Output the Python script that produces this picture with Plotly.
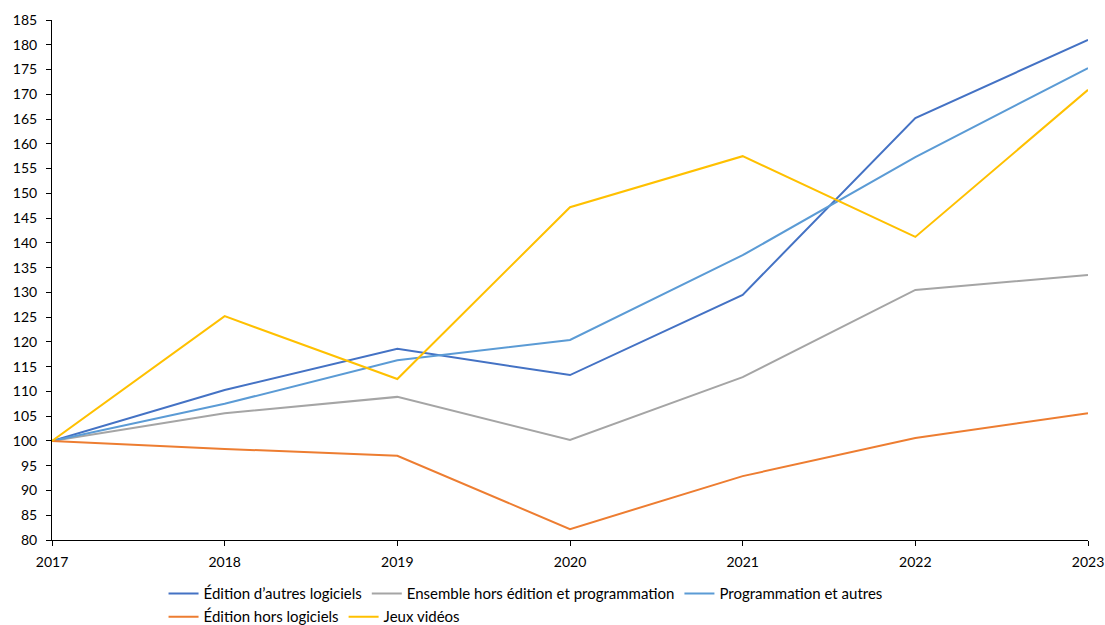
import plotly.graph_objects as go

years = [2017, 2018, 2019, 2020, 2021, 2022, 2023]

edition_autres_logiciels = [100, 110.3, 118.6, 113.3, 129.5, 165.2, 181.0]
ensemble_hors_edition = [100, 105.6, 108.9, 100.2, 112.9, 130.5, 133.5]
programmation_autres = [100, 107.5, 116.3, 120.4, 137.5, 157.3, 175.3]
edition_hors_logiciels = [100, 98.4, 97.0, 82.2, 92.9, 100.6, 105.6]
jeux_videos = [100, 125.2, 112.5, 147.2, 157.5, 141.2, 170.9]

y_ticks = list(range(80, 186, 5))

series = [
    ("Édition d’autres logiciels", edition_autres_logiciels, "#4472C4", "legend"),
    ("Ensemble hors édition et programmation", ensemble_hors_edition, "#A5A5A5", "legend"),
    ("Programmation et autres", programmation_autres, "#5B9BD5", "legend"),
    ("Édition hors logiciels", edition_hors_logiciels, "#ED7D31", "legend2"),
    ("Jeux vidéos", jeux_videos, "#FFC000", "legend2"),
]

fig = go.Figure()
for name, vals, color, leg in series:
    fig.add_trace(go.Scatter(
        x=years, y=vals, name=name, mode="lines",
        line=dict(color=color, width=2),
        legend=leg,
    ))

font = dict(family="Lato, 'Open Sans', sans-serif", size=14, color="#000000")
legend_font = dict(family="Lato, 'Open Sans', sans-serif", size=15, color="#000000")
axis_common = dict(
    showgrid=False, zeroline=False, showline=True,
    linecolor="#000000", linewidth=1,
    ticks="outside", ticklen=5, tickcolor="#000000",
    tickfont=font, automargin=False,
)

fig.update_layout(
    width=1105, height=625,
    margin=dict(l=52, r=17, t=20, b=85),
    paper_bgcolor="white", plot_bgcolor="white",
    font=font,
    showlegend=True,
    xaxis=dict(range=[2017, 2023], tickmode="array", tickvals=years,
               ticktext=[str(y) for y in years], ticklabelstandoff=4,
               **axis_common),
    yaxis=dict(range=[80, 185], tickmode="array", tickvals=y_ticks,
               ticktext=[str(v) for v in y_ticks], ticklabelstandoff=6,
               **axis_common),
    legend=dict(orientation="h", xref="container", yref="container",
                x=0.148, xanchor="left", y=0.05, yanchor="middle",
                font=legend_font, itemwidth=30, tracegroupgap=0,
                bgcolor="rgba(0,0,0,0)"),
    legend2=dict(orientation="h", xref="container", yref="container",
                 x=0.148, xanchor="left", y=0.013, yanchor="middle",
                 font=legend_font, itemwidth=30, tracegroupgap=0,
                 bgcolor="rgba(0,0,0,0)"),
)

fig.write_html("out.html")
